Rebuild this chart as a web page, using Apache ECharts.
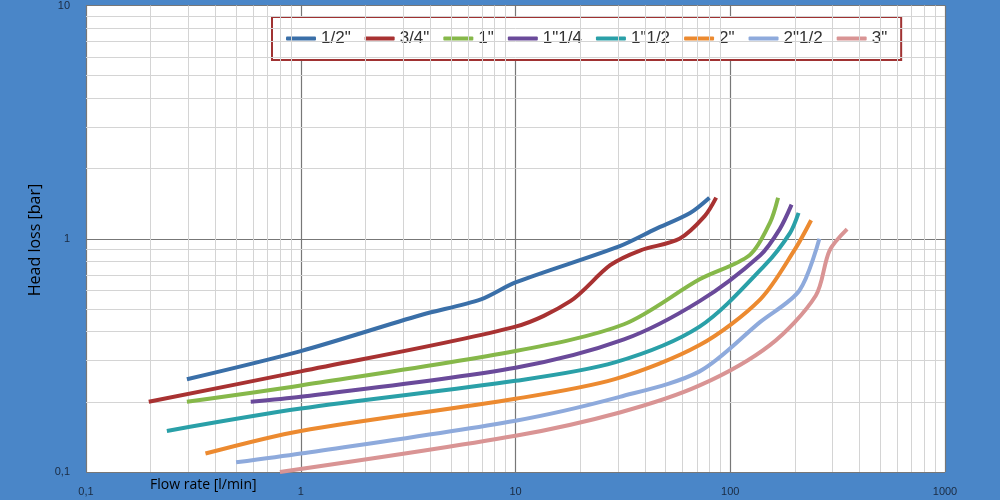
<!DOCTYPE html>
<html>
<head>
<meta charset="utf-8">
<script src="https://cdn.jsdelivr.net/npm/echarts@6/dist/echarts.min.js"></script>
<style>html,body{margin:0;padding:0;background:#4a86c8;}#main{width:1000px;height:500px;}</style>
</head>
<body>
<div id="main"></div>
<script>
var names = ['1/2"', '3/4"', '1"', '1"1/4', '1"1/2', '2"', '2"1/2', '3"'];
var colors = ['#3a6fa8', '#a83232', '#86b84a', '#6a4a9a', '#2aa0a8', '#ec8a30', '#8eaadc', '#d99494'];
var s12 = [[0.295, 0.25], [1, 0.33], [3.6, 0.47], [6.9, 0.55], [10, 0.65], [30.6, 0.93], [44.8, 1.1], [65, 1.29], [80, 1.5]];
var s34 = [[0.196, 0.2], [1, 0.27], [10, 0.42], [18, 0.54], [27.6, 0.77], [38, 0.89], [58, 1.0], [76, 1.25], [86, 1.5]];
var s1 = [[0.295, 0.2], [1, 0.235], [10, 0.33], [32, 0.43], [72, 0.67], [123, 0.85], [153, 1.17], [167, 1.5]];
var s114 = [[0.585, 0.2], [1, 0.21], [10, 0.28], [32, 0.37], [72, 0.54], [138, 0.85], [170, 1.1], [193, 1.4]];
var s112 = [[0.238, 0.15], [1, 0.187], [10, 0.246], [29, 0.295], [72, 0.42], [145, 0.77], [190, 1.06], [208, 1.29]];
var s2 = [[0.36, 0.12], [1, 0.15], [10, 0.206], [29, 0.25], [72, 0.35], [138, 0.55], [200, 0.9], [238, 1.2]];
var s212 = [[0.5, 0.11], [1, 0.12], [10, 0.166], [30.6, 0.21], [72, 0.27], [138, 0.44], [210, 0.6], [260, 1.0]];
var s3 = [[0.8, 0.1], [10, 0.143], [30.6, 0.18], [72, 0.235], [153, 0.35], [250, 0.57], [290, 0.89], [350, 1.1]];
var allData = [s12, s34, s1, s114, s112, s2, s212, s3];

var xMinor = [];
[0.1, 1, 10, 100].forEach(function (d) {
    for (var k = 2; k <= 9; k++) xMinor.push({xAxis: +(d * k).toPrecision(3)});
});
var yMinor = [];
[0.1, 1].forEach(function (d) {
    for (var k = 2; k <= 9; k++) yMinor.push({yAxis: +(d * k).toPrecision(3)});
});

function comma(v) { return String(v).replace('.', ','); }

var chart = echarts.init(document.getElementById('main'));
var series = names.map(function (n, i) {
    return {
        name: n, type: 'line', data: allData[i], smooth: 0.3, symbol: 'none',
        lineStyle: {width: 4, color: colors[i]}, itemStyle: {color: colors[i]}, z: 5
    };
});
series.push({
    type: 'line', data: [], silent: true, z: 1,
    markLine: {silent: true, symbol: 'none', label: {show: false}, animation: false,
        lineStyle: {color: '#d4d4d4', width: 1, type: 'solid'},
        data: xMinor.concat(yMinor)}
});
chart.setOption({
    backgroundColor: '#4a86c8',
    animation: false,
    grid: {left: 86, right: 55, top: 5, bottom: 28, backgroundColor: '#fff', show: true, borderWidth: 0},
    legend: {
        data: names, top: 17, left: 272, width: 668, height: 45,
        padding: [13, 14], itemGap: 14, itemWidth: 30, itemHeight: 4,
        backgroundColor: '#fff', borderColor: '#a03232', borderWidth: 2,
        icon: 'roundRect',
        textStyle: {fontSize: 17, color: '#333', fontFamily: 'Liberation Sans Narrow, Liberation Sans'}
    },
    xAxis: {
        type: 'log', min: 0.1, max: 1000, logBase: 10,
        axisLine: {show: false}, axisTick: {show: false},
        axisLabel: {formatter: comma, fontSize: 11, color: '#1a2a40', margin: 14},
        splitLine: {lineStyle: {color: '#777', width: 1.2}}
    },
    yAxis: {
        type: 'log', min: 0.1, max: 10, logBase: 10,
        axisLine: {show: false}, axisTick: {show: false},
        axisLabel: {formatter: comma, fontSize: 11, color: '#1a2a40', margin: 16},
        splitLine: {lineStyle: {color: '#777', width: 1.2}}
    },
    graphic: [
        {type: 'text', left: 150, top: 478, style: {text: 'Flow rate [l/min]', fontSize: 14, fill: '#000', fontFamily: 'Open Sans'}},
        {type: 'text', x: 35, y: 240, rotation: Math.PI / 2,
            style: {text: 'Head loss [bar]', fontSize: 16, fill: '#000', fontFamily: 'Open Sans', align: 'center', verticalAlign: 'middle'}}
    ],
    series: series
});
</script>
</body>
</html>
